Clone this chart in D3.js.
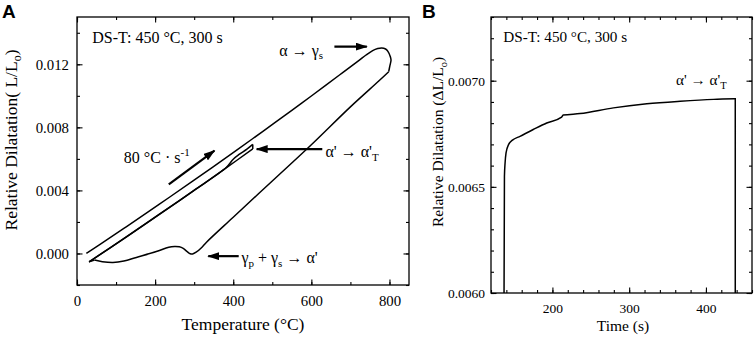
<!DOCTYPE html>
<html>
<head>
<meta charset="utf-8">
<script src="https://cdn.jsdelivr.net/npm/d3@7"></script>
<style>
  body { margin: 0; background: #fff; }
  svg { display: block; }
  text { font-family: "Liberation Serif", "Times New Roman", serif; fill: #000; }
  .tick text { font-family: "Liberation Serif", "Times New Roman", serif; }
</style>
</head>
<body>
<svg id="chart" width="754" height="338"></svg>
<script>
// ---- panel A : dilatation vs temperature (full cycle)
const heat1T = [24, 60, 126, 211, 297, 408, 476, 550, 600, 672, 723, 740, 757, 770, 780, 790, 796, 802, 804, 801, 798];
const heat1V = [0, 0.00059, 0.00169, 0.00313, 0.0046, 0.00654, 0.00775, 0.00908, 0.00999, 0.01132, 0.01227, 0.01259, 0.01287, 0.01300, 0.01304, 0.01297, 0.01282, 0.0125, 0.01227, 0.0119, 0.01153];
const cool1T = [798, 774, 700, 600, 500, 400, 331, 320, 305, 296, 290, 282, 272, 262, 250, 235, 203, 152, 120, 92, 65, 45];
const cool1V = [0.01153, 0.01097, 0.0093, 0.0069, 0.0046, 0.0023, 0.0007, 0.0004, 0.00008, -0.00003, -0.00002, 0.00012, 0.00032, 0.00042, 0.00044, 0.0004, 0.00012, -0.00025, -0.00048, -0.00057, -0.00052, -0.00042];
const reheatT = [31, 126, 211, 297, 382, 450];
const reheatV = [-0.00053, 0.00104, 0.00248, 0.00395, 0.00543, 0.00663];
const holdT = [450, 450];
const holdV = [0.00663, 0.00692];
const cool2T = [450, 435, 415, 400, 382, 297, 211, 126, 31];
const cool2V = [0.00692, 0.00662, 0.00628, 0.00598, 0.00545, 0.00396, 0.00249, 0.00105, -0.00053];

const xTicksA = [0, 200, 400, 600, 800];
const yTicksA = [0.000, 0.004, 0.008, 0.012];

// ---- panel B : dilatation vs time during the 450 °C hold
const timeB = [137, 137.5, 138.3, 139.6, 143, 148, 157.8, 175, 192.6, 212, 214, 236, 279.5, 323, 366.5, 410, 437, 438.2, 438.2];
const dilB = [0.0060, 0.00655, 0.00661, 0.00666, 0.00670, 0.00672, 0.006738, 0.00677, 0.006801, 0.006828, 0.006838, 0.006845, 0.006872, 0.006891, 0.006903, 0.006912, 0.006915, 0.006915, 0.0060];
const xTicksB = [200, 300, 400];
const yTicksB = [0.0060, 0.0065, 0.0070];

// ---- annotations (data coordinates)
const arrowsA = [
  {x1: 659, y1: 0.01312, x2: 742, y2: 0.01312},
  {x1: 235, y1: 0.00438, x2: 352, y2: 0.00653},
  {x1: 628, y1: 0.00662, x2: 460, y2: 0.00662},
  {x1: 414, y1: -0.00017, x2: 336, y2: -0.00017}
];

const svg = d3.select("#chart");

svg.append("defs").append("marker")
    .attr("id", "head")
    .attr("markerUnits", "userSpaceOnUse")
    .attr("viewBox", "0 0 12 8")
    .attr("refX", 11).attr("refY", 4)
    .attr("markerWidth", 12).attr("markerHeight", 8)
    .attr("orient", "auto")
  .append("path")
    .attr("d", "M0,0 L12,4 L0,8 Z")
    .attr("fill", "#000");

function frameAxes(g, x, y, w, h, o) {
    // inward major + minor ticks on all four sides
    const ax = [
        [d3.axisBottom(x), `translate(0,${h})`, true],
        [d3.axisTop(x), "translate(0,0)", false]
    ];
    ax.forEach(([a, tr, lab]) => {
        g.append("g").attr("transform", tr)
            .call(a.tickValues(o.xMinor).tickSizeInner(-3).tickSizeOuter(0).tickFormat(""))
            .call(s => s.select(".domain").remove());
        const gg = g.append("g").attr("transform", tr)
            .call(a.tickValues(o.xMajor).tickSizeInner(-5.5).tickSizeOuter(0).tickPadding(o.xPad)
                .tickFormat(lab ? o.xFmt : ""))
            .call(s => s.select(".domain").remove());
        gg.selectAll("text").attr("font-size", o.tickFont);
    });
    const ay = [
        [d3.axisLeft(y), "translate(0,0)", true],
        [d3.axisRight(y), `translate(${w},0)`, false]
    ];
    ay.forEach(([a, tr, lab]) => {
        g.append("g").attr("transform", tr)
            .call(a.tickValues(o.yMinor).tickSizeInner(-3).tickSizeOuter(0).tickFormat(""))
            .call(s => s.select(".domain").remove());
        const gg = g.append("g").attr("transform", tr)
            .call(a.tickValues(o.yMajor).tickSizeInner(-5.5).tickSizeOuter(0).tickPadding(o.yPad)
                .tickFormat(lab ? o.yFmt : ""))
            .call(s => s.select(".domain").remove());
        gg.selectAll("text").attr("font-size", o.tickFont);
    });
    g.selectAll(".tick line").attr("stroke", "#000").attr("stroke-width", 1.1);
    g.append("rect").attr("width", w).attr("height", h)
        .attr("fill", "none").attr("stroke", "#000").attr("stroke-width", 1.3);
}

// ================= Panel A =================
const mA = {left: 77, top: 17, width: 332, height: 268};
const gA = svg.append("g").attr("transform", `translate(${mA.left},${mA.top})`);
const xA = d3.scaleLinear().domain([0, 850]).range([0, mA.width]);
const yA = d3.scaleLinear().domain([-0.002, 0.015]).range([mA.height, 0]);

svg.append("clipPath").attr("id", "clipA").append("rect")
    .attr("width", mA.width).attr("height", mA.height);

frameAxes(gA, xA, yA, mA.width, mA.height, {
    xMajor: xTicksA, xMinor: d3.range(0, 851, 100),
    yMajor: yTicksA, yMinor: d3.range(-0.002, 0.0151, 0.002),
    xFmt: d3.format("d"), yFmt: d3.format(".3f"),
    xPad: 10, yPad: 8, tickFont: "14.8px"
});

const lineA = d3.line().x(d => xA(d[0])).y(d => yA(d[1])).curve(d3.curveCatmullRom.alpha(0.5));
const segsA = [
    [heat1T, heat1V], [cool1T, cool1V], [reheatT, reheatV], [holdT, holdV], [cool2T, cool2V]
];
segsA.forEach(([ts, vs]) => {
    gA.append("path")
        .datum(ts.map((t, i) => [t, vs[i]]))
        .attr("clip-path", "url(#clipA)")
        .attr("d", lineA)
        .attr("fill", "none").attr("stroke", "#000").attr("stroke-width", 1.5)
        .attr("stroke-linejoin", "round");
});
// join between end of cooling and start of reheat
gA.append("path")
    .datum([[cool1T[cool1T.length - 1], cool1V[cool1V.length - 1]], [reheatT[0], reheatV[0]]])
    .attr("d", d3.line().x(d => xA(d[0])).y(d => yA(d[1])))
    .attr("fill", "none").attr("stroke", "#000").attr("stroke-width", 1.5);

gA.selectAll(".arrow").data(arrowsA).join("line")
    .attr("class", "arrow")
    .attr("x1", d => xA(d.x1)).attr("y1", d => yA(d.y1))
    .attr("x2", d => xA(d.x2)).attr("y2", d => yA(d.y2))
    .attr("stroke", "#000").attr("stroke-width", 2.2)
    .attr("marker-end", "url(#head)");

gA.append("text").attr("x", xA(39)).attr("y", yA(0.01333))
    .attr("font-size", "16px").text("DS-T: 450 °C, 300 s");

const tA1 = gA.append("text").attr("x", xA(518)).attr("y", yA(0.01253)).attr("font-size", "16px");
tA1.append("tspan").text("α → γ");
tA1.append("tspan").attr("font-size", "11px").attr("dy", 3).text("s");

const tA2 = gA.append("text").attr("x", xA(120)).attr("y", yA(0.00573)).attr("font-size", "16px");
tA2.append("tspan").text("80 °C · s");
tA2.append("tspan").attr("font-size", "11px").attr("dy", -7).text("-1");

const tA3 = gA.append("text").attr("x", xA(636)).attr("y", yA(0.00611)).attr("font-size", "16px");
tA3.append("tspan").text("α' → α'");
tA3.append("tspan").attr("font-size", "11px").attr("dy", 4).text("T");

const tA4 = gA.append("text").attr("x", xA(421)).attr("y", yA(-0.00062)).attr("font-size", "16px");
tA4.append("tspan").text("γ");
tA4.append("tspan").attr("font-size", "11px").attr("dy", 4).text("p");
tA4.append("tspan").attr("dy", -4).text(" + γ");
tA4.append("tspan").attr("font-size", "11px").attr("dy", 4).text("s");
tA4.append("tspan").attr("dy", -4).text(" → α'");

svg.append("text").attr("x", mA.left + mA.width / 2).attr("y", 330)
    .attr("text-anchor", "middle").attr("font-size", "17.5px").text("Temperature (°C)");

const ylA = svg.append("text").attr("transform", "translate(17,140) rotate(-90)")
    .attr("text-anchor", "middle").attr("font-size", "17.5px");
ylA.append("tspan").text("Relative Dilatation( L/L");
ylA.append("tspan").attr("font-size", "12px").attr("dy", 4).text("o");
ylA.append("tspan").attr("dy", -4).text(")");

svg.append("text").attr("x", 2).attr("y", 18)
    .attr("font-weight", "bold").attr("font-size", "19px")
    .style("font-family", "'Liberation Sans', Arial, sans-serif").text("A");

// ================= Panel B =================
const mB = {left: 491, top: 17, width: 261, height: 276};
const gB = svg.append("g").attr("transform", `translate(${mB.left},${mB.top})`);
const xB = d3.scaleLinear().domain([120, 460]).range([0, mB.width]);
const yB = d3.scaleLinear().domain([0.0060, 0.0073]).range([mB.height, 0]);

svg.append("clipPath").attr("id", "clipB").append("rect")
    .attr("width", mB.width).attr("height", mB.height);

frameAxes(gB, xB, yB, mB.width, mB.height, {
    xMajor: xTicksB, xMinor: d3.range(120, 461, 20),
    yMajor: yTicksB, yMinor: d3.range(0.0060, 0.00731, 0.0001),
    xFmt: d3.format("d"), yFmt: d3.format(".4f"),
    xPad: 10, yPad: 6, tickFont: "13.5px"
});

gB.append("path")
    .datum(timeB.map((t, i) => [t, dilB[i]]))
    .attr("clip-path", "url(#clipB)")
    .attr("d", d3.line().x(d => xB(d[0])).y(d => yB(d[1])).curve(d3.curveMonotoneX))
    .attr("fill", "none").attr("stroke", "#000").attr("stroke-width", 1.5);

gB.append("text").attr("x", xB(136)).attr("y", yB(0.007182))
    .attr("font-size", "15.2px").text("DS-T: 450 °C, 300 s");

const tB1 = gB.append("text").attr("x", xB(361)).attr("y", yB(0.006978)).attr("font-size", "15.2px");
tB1.append("tspan").text("α' → α'");
tB1.append("tspan").attr("font-size", "10.5px").attr("dy", 4).text("T");

svg.append("text").attr("x", 623).attr("y", 331)
    .attr("text-anchor", "middle").attr("font-size", "15.5px").text("Time (s)");

const ylB = svg.append("text").attr("transform", "translate(443,142) rotate(-90)")
    .attr("text-anchor", "middle").attr("font-size", "15.5px");
ylB.append("tspan").text("Relative Dilatation (ΔL/L");
ylB.append("tspan").attr("font-size", "10.5px").attr("dy", 4).text("o");
ylB.append("tspan").attr("dy", -4).text(")");

svg.append("text").attr("x", 422).attr("y", 18)
    .attr("font-weight", "bold").attr("font-size", "19px")
    .style("font-family", "'Liberation Sans', Arial, sans-serif").text("B");
</script>
</body>
</html>
